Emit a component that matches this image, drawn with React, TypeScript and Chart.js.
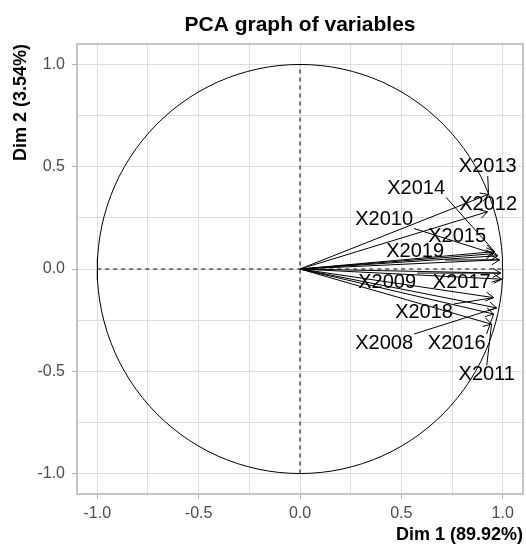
import React, { useEffect, useRef } from 'react';
import { Chart, registerables } from 'chart.js';

Chart.register(...registerables);

// ---- data ----
const variables = ['X2008', 'X2009', 'X2010', 'X2011', 'X2012', 'X2013', 'X2014', 'X2015', 'X2016', 'X2017', 'X2018', 'X2019'];
const dim1 = [0.97, 0.99, 0.955, 0.945, 0.925, 0.93, 0.96, 0.975, 0.955, 0.995, 0.955, 0.985];
const dim2 = [-0.19, -0.02, 0.075, -0.27, 0.28, 0.365, 0.085, 0.065, -0.22, -0.05, -0.14, 0.045];
// repelled label positions (data coordinates)
const labelDim1 = [0.415, 0.43, 0.415, 0.921, 0.928, 0.926, 0.573, 0.775, 0.773, 0.798, 0.612, 0.568];
const labelDim2 = [-0.362, -0.064, 0.242, -0.516, 0.315, 0.499, 0.394, 0.161, -0.362, -0.064, -0.215, 0.088];

const majorTicks = [-1, -0.5, 0, 0.5, 1];
const minorTicks = [-0.75, -0.25, 0.25, 0.75];
const axisMin = -1.1;
const axisMax = 1.1;

const chartTitle = 'PCA graph of variables';
const xTitle = 'Dim 1 (89.92%)';
const yTitle = 'Dim 2 (3.54%)';

const FONT = "'Liberation Sans', Arial, Helvetica, sans-serif";
const GRID = '#DEDEDE';
const FRAME = '#B3B3B3';
const TICK_TEXT = '#4D4D4D';

const allTicks = [...majorTicks, ...minorTicks].sort((a, b) => a - b);
const isMajor = (v: number) => majorTicks.some((m) => Math.abs(m - v) < 1e-9);

// unit correlation circle
const circlePts: { x: number; y: number }[] = [];
for (let k = 0; k <= 120; k++) {
  const t = (k / 120) * Math.PI * 2;
  circlePts.push({ x: Math.cos(t), y: Math.sin(t) });
}

const decorPlugin = {
  id: 'pcaDecor',
  afterDatasetsDraw(chart: any) {
    const { ctx, scales } = chart;
    const xs = scales.x;
    const ys = scales.y;
    const ox = xs.getPixelForValue(0);
    const oy = ys.getPixelForValue(0);
    ctx.save();
    ctx.strokeStyle = '#000';
    ctx.lineWidth = 1;
    // arrow heads
    variables.forEach((_, i) => {
      const tx = xs.getPixelForValue(dim1[i]);
      const ty = ys.getPixelForValue(dim2[i]);
      const ang = Math.atan2(ty - oy, tx - ox);
      const len = 9;
      const spread = Math.PI / 6;
      ctx.beginPath();
      ctx.moveTo(tx - len * Math.cos(ang - spread), ty - len * Math.sin(ang - spread));
      ctx.lineTo(tx, ty);
      ctx.lineTo(tx - len * Math.cos(ang + spread), ty - len * Math.sin(ang + spread));
      ctx.stroke();
    });
    // leader segments + labels
    ctx.font = `20px ${FONT}`;
    variables.forEach((name, i) => {
      const tx = xs.getPixelForValue(dim1[i]);
      const ty = ys.getPixelForValue(dim2[i]);
      const cx = xs.getPixelForValue(labelDim1[i]);
      const cy = ys.getPixelForValue(labelDim2[i]);
      const w = ctx.measureText(name).width;
      const l = cx - w / 2 - 1;
      const r = cx + w / 2 + 1;
      const t = cy - 9;
      const b = cy + 9;
      const inside = tx >= l && tx <= r && ty >= t && ty <= b;
      if (!inside) {
        const cands = [
          [l, t], [cx, t], [r, t],
          [l, cy], [r, cy],
          [l, b], [cx, b], [r, b],
        ];
        let best = cands[0];
        let bd = Infinity;
        cands.forEach((p) => {
          const d = Math.hypot(p[0] - tx, p[1] - ty);
          if (d < bd) {
            bd = d;
            best = p;
          }
        });
        if (bd > 8) {
          ctx.beginPath();
          ctx.moveTo(best[0], best[1]);
          ctx.lineTo(tx, ty);
          ctx.stroke();
        }
      }
    });
    ctx.fillStyle = '#000';
    ctx.textAlign = 'center';
    ctx.textBaseline = 'middle';
    variables.forEach((name, i) => {
      const cx = xs.getPixelForValue(labelDim1[i]);
      const cy = ys.getPixelForValue(labelDim2[i]);
      ctx.fillText(name, cx, cy);
    });
    ctx.restore();
  },
  afterDraw(chart: any) {
    const { ctx, chartArea } = chart;
    ctx.save();
    ctx.strokeStyle = FRAME;
    ctx.lineWidth = 1.5;
    ctx.strokeRect(chartArea.left, chartArea.top, chartArea.right - chartArea.left, chartArea.bottom - chartArea.top);
    ctx.fillStyle = '#000';
    ctx.font = `bold 21px ${FONT}`;
    ctx.textAlign = 'center';
    ctx.textBaseline = 'alphabetic';
    ctx.fillText(chartTitle, (chartArea.left + chartArea.right) / 2, 31);
    ctx.restore();
  },
};

export default function App() {
  const canvasRef = useRef<HTMLCanvasElement | null>(null);

  useEffect(() => {
    document.body.style.margin = '0';
    const canvas = canvasRef.current;
    if (!canvas) return;

    const arrowSets = variables.map((name, i) => ({
      label: name,
      data: [
        { x: 0, y: 0 },
        { x: dim1[i], y: dim2[i] },
      ],
      showLine: true,
      borderColor: '#000',
      borderWidth: 1,
      pointRadius: 0,
      fill: false,
    }));

    const tickFont = { family: FONT, size: 16 };
    const titleFont = { family: FONT, size: 18, weight: 'bold' as const };

    const chart = new Chart(canvas, {
      type: 'scatter',
      data: {
        datasets: [
          {
            label: 'circle',
            data: circlePts,
            showLine: true,
            borderColor: '#000',
            borderWidth: 1,
            pointRadius: 0,
            fill: false,
          },
          {
            label: 'h',
            data: [
              { x: -1, y: 0 },
              { x: 1, y: 0 },
            ],
            showLine: true,
            borderColor: '#000',
            borderWidth: 1,
            borderDash: [4, 4],
            pointRadius: 0,
          },
          {
            label: 'v',
            data: [
              { x: 0, y: -1 },
              { x: 0, y: 1 },
            ],
            showLine: true,
            borderColor: '#000',
            borderWidth: 1,
            borderDash: [4, 4],
            pointRadius: 0,
          },
          ...arrowSets,
        ] as any,
      },
      options: {
        responsive: false,
        animation: false,
        devicePixelRatio: 1,
        layout: { padding: { top: 44, right: 3, left: 0, bottom: 0 } },
        plugins: {
          legend: { display: false },
          tooltip: { enabled: false },
          title: { display: false },
        },
        scales: {
          x: {
            type: 'linear',
            position: 'bottom',
            min: axisMin,
            max: axisMax,
            afterBuildTicks: (scale: any) => {
              scale.ticks = allTicks.map((v) => ({ value: v }));
            },
            afterFit: (scale: any) => {
              scale.height = 52;
            },
            ticks: {
              autoSkip: false,
              maxRotation: 0,
              minRotation: 0,
              padding: 5,
              color: TICK_TEXT,
              font: tickFont,
              callback: (v: any) => (isMajor(Number(v)) ? Number(v).toFixed(1) : ''),
            },
            grid: {
              color: GRID,
              lineWidth: 1,
              tickLength: 5,
              tickColor: (c: any) => (c.tick && isMajor(c.tick.value) ? FRAME : 'rgba(0,0,0,0)'),
            },
            border: { display: false },
            title: {
              display: true,
              text: xTitle,
              align: 'end',
              color: '#000',
              font: titleFont,
              padding: { top: 0, bottom: 0 },
            },
          },
          y: {
            type: 'linear',
            position: 'left',
            min: axisMin,
            max: axisMax,
            afterBuildTicks: (scale: any) => {
              scale.ticks = allTicks.map((v) => ({ value: v }));
            },
            afterFit: (scale: any) => {
              scale.width = 77;
            },
            ticks: {
              autoSkip: false,
              padding: 7,
              color: TICK_TEXT,
              font: tickFont,
              callback: (v: any) => (isMajor(Number(v)) ? Number(v).toFixed(1) : ''),
            },
            grid: {
              color: GRID,
              lineWidth: 1,
              tickLength: 5,
              tickColor: (c: any) => (c.tick && isMajor(c.tick.value) ? FRAME : 'rgba(0,0,0,0)'),
            },
            border: { display: false },
            title: {
              display: true,
              text: yTitle,
              align: 'end',
              color: '#000',
              font: titleFont,
              padding: { top: 10, bottom: 0 },
            },
          },
        },
      } as any,
      plugins: [decorPlugin],
    });

    return () => chart.destroy();
  }, []);

  return (
    <div style={{ width: 526, height: 546, background: '#fff' }}>
      <canvas ref={canvasRef} width={526} height={546} style={{ display: 'block', width: 526, height: 546 }} />
    </div>
  );
}
